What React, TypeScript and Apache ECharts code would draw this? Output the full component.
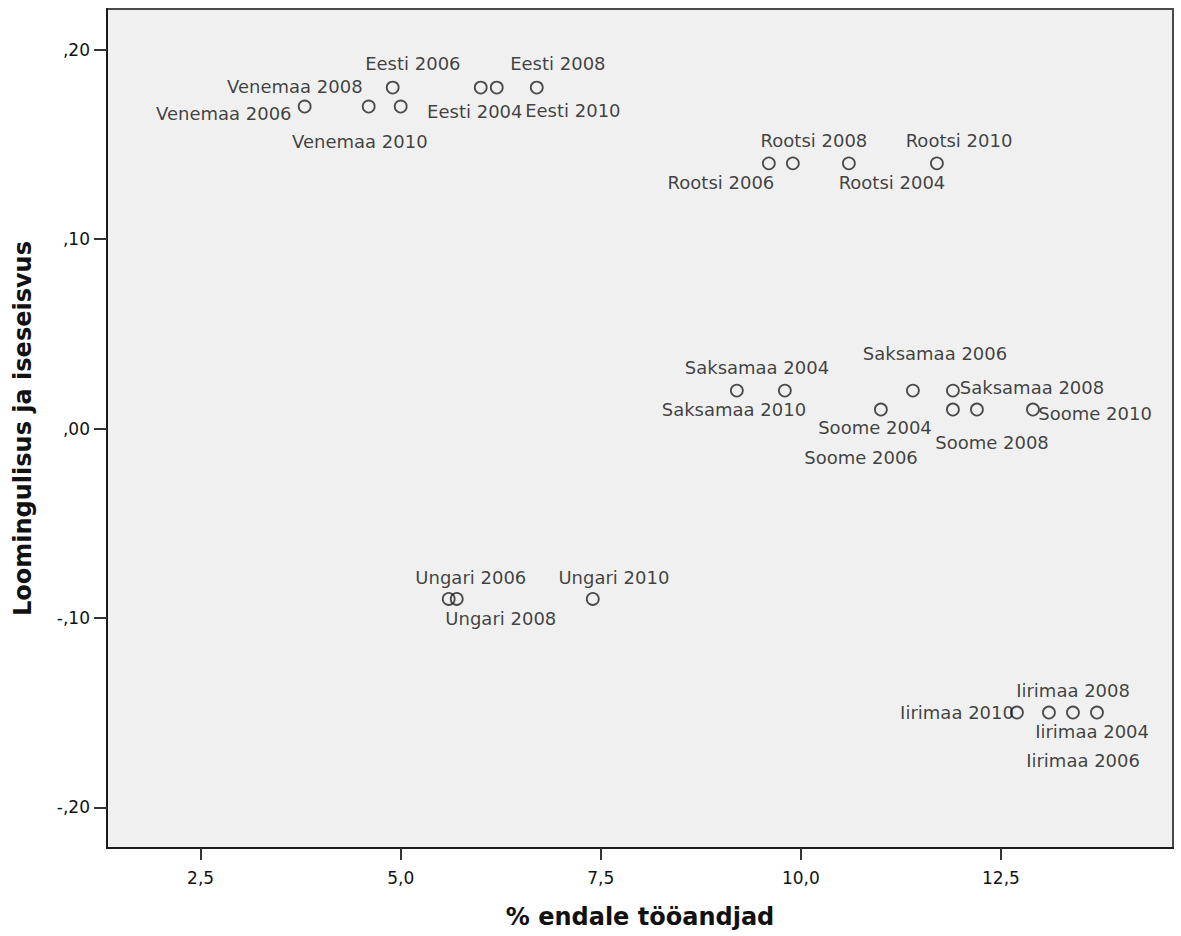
import React, { useEffect, useRef } from "react";
import * as echarts from "echarts";

// ---- Data ----
const pointNames = [
  "Venemaa 2006", "Venemaa 2008", "Venemaa 2010",
  "Eesti 2004", "Eesti 2006", "Eesti 2008", "Eesti 2010",
  "Rootsi 2006", "Rootsi 2008", "Rootsi 2004", "Rootsi 2010",
  "Saksamaa 2004", "Saksamaa 2010", "Saksamaa 2006", "Saksamaa 2008",
  "Soome 2004", "Soome 2006", "Soome 2008", "Soome 2010",
  "Ungari 2006", "Ungari 2008", "Ungari 2010",
  "Iirimaa 2010", "Iirimaa 2008", "Iirimaa 2006", "Iirimaa 2004",
];
const selfEmployedPct = [
  3.8, 4.9, 4.6,
  5.0, 6.0, 6.7, 6.2,
  9.6, 9.9, 10.6, 11.7,
  9.8, 9.2, 11.4, 11.9,
  11.0, 11.9, 12.2, 12.9,
  5.6, 5.7, 7.4,
  12.7, 13.4, 13.1, 13.7,
];
const creativity = [
  0.17, 0.18, 0.17,
  0.17, 0.18, 0.18, 0.18,
  0.14, 0.14, 0.14, 0.14,
  0.02, 0.02, 0.02, 0.02,
  0.01, 0.01, 0.01, 0.01,
  -0.09, -0.09, -0.09,
  -0.15, -0.15, -0.15, -0.15,
];
const xTicks = [2.5, 5.0, 7.5, 10.0, 12.5];
const xTickLabels = ["2,5", "5,0", "7,5", "10,0", "12,5"];
const yTicks = [-0.2, -0.1, 0.0, 0.1, 0.2];
const yTickLabels = ["-,20", "-,10", ",00", ",10", ",20"];
const xTitle = "% endale tööandjad";
const yTitle = "Loomingulisus ja iseseisvus";

// ---- Label layout (pixel offsets of each label centre from its marker centre) ----
const labelOffsets: Record<string, [number, number]> = {
  "Venemaa 2006": [-80, 8],
  "Venemaa 2008": [-97, 0],
  "Venemaa 2010": [-8, 36],
  "Eesti 2004": [75, 6],
  "Eesti 2006": [-67, -23],
  "Eesti 2008": [22, -23],
  "Eesti 2010": [77, 24],
  "Rootsi 2006": [-47, 20],
  "Rootsi 2008": [22, -22],
  "Rootsi 2004": [44, 20],
  "Rootsi 2010": [23, -22],
  "Saksamaa 2004": [-27, -22],
  "Saksamaa 2010": [-2, 20],
  "Saksamaa 2006": [23, -36],
  "Saksamaa 2008": [80, -2],
  "Soome 2004": [-5, 19],
  "Soome 2006": [-91, 49],
  "Soome 2008": [16, 34],
  "Soome 2010": [63, 5],
  "Ungari 2006": [23, -21],
  "Ungari 2008": [45, 20],
  "Ungari 2010": [22, -21],
  "Iirimaa 2010": [-59, 1],
  "Iirimaa 2008": [1, -21],
  "Iirimaa 2006": [35, 49],
  "Iirimaa 2004": [-4, 20],
};

const FONT = "'DejaVu Sans', Verdana, sans-serif";
const SYMBOL_SIZE = 12;

function lookup(ticks: number[], labels: string[], v: number): string {
  const i = ticks.findIndex((t) => Math.abs(t - v) < 1e-9);
  return i >= 0 ? labels[i] : "";
}

export default function App() {
  const ref = useRef<HTMLDivElement>(null);

  useEffect(() => {
    document.body.style.margin = "0";
    if (!ref.current) return;
    const chart = echarts.init(ref.current, null, { renderer: "svg" });

    const data = pointNames.map((name, i) => {
      const off = labelOffsets[name] || [0, 0];
      return {
        name,
        value: [selfEmployedPct[i], creativity[i]],
        label: {
          show: true,
          position: [SYMBOL_SIZE / 2 + off[0], SYMBOL_SIZE / 2 + off[1]],
          align: "center",
          verticalAlign: "middle",
          formatter: name,
        },
      };
    });

    const option: any = {
      animation: false,
      backgroundColor: "#ffffff",
      textStyle: { fontFamily: FONT },
      grid: {
        left: 107,
        right: 8,
        top: 9,
        bottom: 88,
        show: true,
        backgroundColor: "#f0f0f0",
        borderColor: "#4a4a4a",
        borderWidth: 2,
      },
      xAxis: {
        type: "value",
        min: 1.33,
        max: 14.65,
        splitLine: { show: false },
        axisLine: { show: true, onZero: false, lineStyle: { color: "#1a1a1a", width: 2 } },
        axisTick: { show: true, length: 12, customValues: xTicks, lineStyle: { color: "#333333", width: 2 } },
        axisLabel: {
          customValues: xTicks,
          formatter: (v: number) => lookup(xTicks, xTickLabels, v),
          margin: 21,
          fontSize: 17,
          color: "#111111",
          fontFamily: FONT,
        },
        name: xTitle,
        nameLocation: "middle",
        nameGap: 57,
        nameTextStyle: { fontSize: 24, fontWeight: "bold", color: "#111111", fontFamily: FONT },
      },
      yAxis: {
        type: "value",
        min: -0.2215,
        max: 0.2215,
        splitLine: { show: false },
        axisLine: { show: true, onZero: false, lineStyle: { color: "#1a1a1a", width: 2 } },
        axisTick: { show: true, length: 13, customValues: yTicks, lineStyle: { color: "#333333", width: 2 } },
        axisLabel: {
          customValues: yTicks,
          formatter: (v: number) => lookup(yTicks, yTickLabels, v),
          margin: 17,
          fontSize: 17,
          color: "#111111",
          fontFamily: FONT,
        },
        name: yTitle,
        nameLocation: "middle",
        nameRotate: 90,
        nameGap: 72,
        nameTextStyle: { fontSize: 24, fontWeight: "bold", color: "#111111", fontFamily: FONT },
      },
      series: [
        {
          type: "scatter",
          symbol: "circle",
          symbolSize: SYMBOL_SIZE,
          itemStyle: { color: "rgba(0,0,0,0)", borderColor: "#222222", borderWidth: 1.8 },
          label: {
            show: true,
            fontSize: 18,
            color: "#111111",
            fontFamily: FONT,
          },
          labelLayout: { hideOverlap: false },
          emphasis: { disabled: true },
          data,
        },
      ],
    };

    chart.setOption(option);
    return () => chart.dispose();
  }, []);

  return <div ref={ref} style={{ width: 1181, height: 936 }} />;
}
